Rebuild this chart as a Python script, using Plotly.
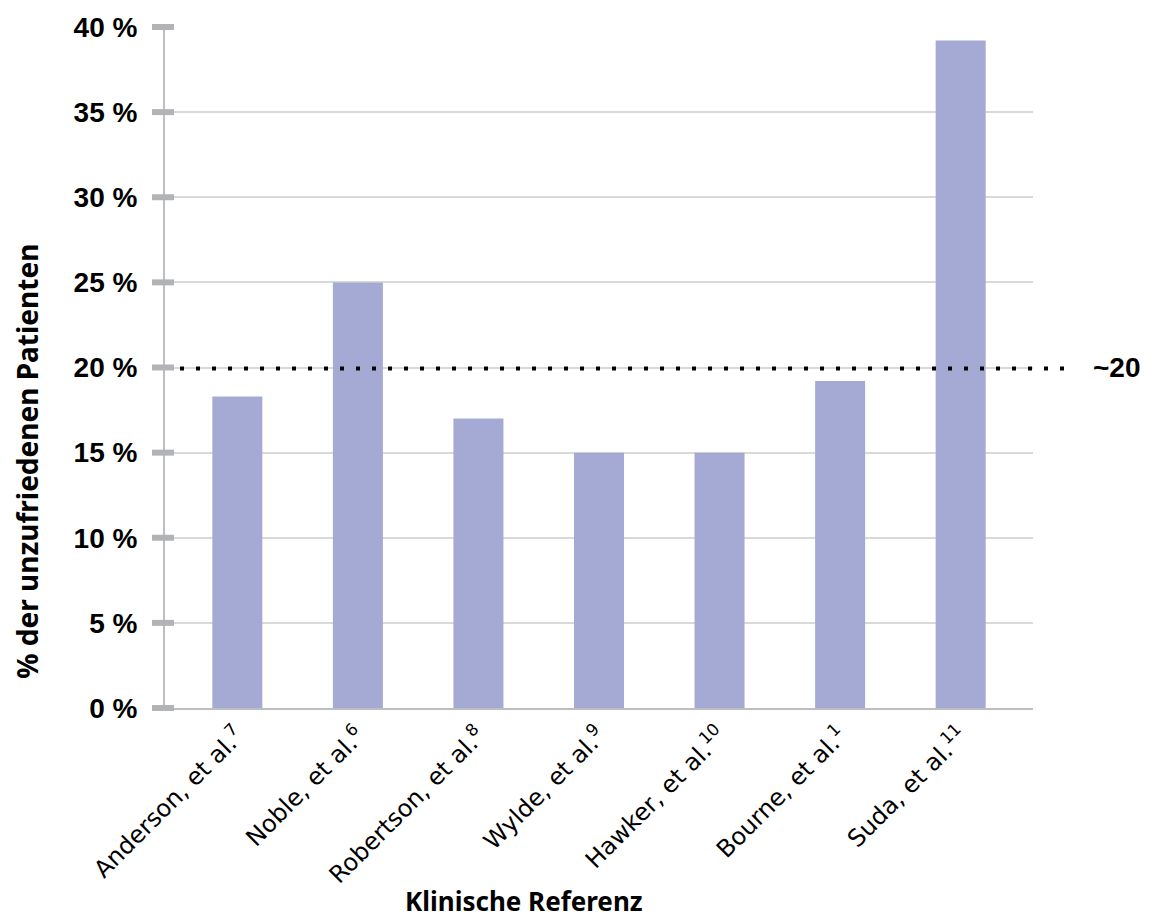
import plotly.graph_objects as go

# Studies and share of dissatisfied patients (%)
studies = ["Anderson, et al.<sup>7</sup>", "Noble, et al.<sup>6</sup>",
           "Robertson, et al.<sup>8</sup>", "Wylde, et al.<sup>9</sup>",
           "Hawker, et al.<sup>10</sup>", "Bourne, et al.<sup>1</sup>",
           "Suda, et al.<sup>11</sup>"]
dissatisfied = [18.3, 25.0, 17.0, 15.0, 15.0, 19.2, 39.2]

y_ticks = [0, 5, 10, 15, 20, 25, 30, 35, 40]
y_tick_labels = [f"{v} %" for v in y_ticks]
reference_level = 20
reference_label = "~20"

Y_MAX = 40
BAR_COLOR = "#a5aad5"
AXIS_GRAY = "#bcbec0"
GRID_GRAY = "#d9d9d9"
TICK_GRAY = "#b1b3b6"
SANS = "Noto Sans, DejaVu Sans, sans-serif"
WIDE = "DejaVu Sans, Noto Sans, sans-serif"
ARIAL = "Liberation Sans, Arial, sans-serif"

fig = go.Figure(go.Bar(
    x=list(range(len(studies))),
    y=dissatisfied,
    width=0.415,
    marker=dict(color=BAR_COLOR, line=dict(width=0)),
    hoverinfo="skip",
))

plot_w = 1151 - 165 - 118
plot_h = 922 - 25 - 214

shapes = []
# tick marks straddling the y axis
for v in y_ticks:
    shapes.append(dict(
        type="line", xref="paper", yref="paper",
        x0=-13 / plot_w, x1=9 / plot_w, y0=v / Y_MAX, y1=v / Y_MAX,
        line=dict(color=TICK_GRAY, width=6), layer="above",
    ))
# dotted reference line, extending past the plot area
ref_y = reference_level / Y_MAX - 1.0 / plot_h
shapes.append(dict(
    type="line", xref="paper", yref="paper",
    x0=15 / plot_w, x1=(1075 - 165) / plot_w, y0=ref_y, y1=ref_y,
    line=dict(color="black", width=4, dash="4px,12px"), layer="above",
))

fig.update_layout(
    width=1151, height=922,
    margin=dict(l=165, r=118, t=25, b=214),
    paper_bgcolor="white", plot_bgcolor="white",
    showlegend=False,
    shapes=shapes,
    xaxis=dict(
        range=[-0.6, 6.6],
        tickmode="array",
        tickvals=list(range(len(studies))),
        ticktext=studies,
        tickangle=-45,
        tickfont=dict(family=WIDE, size=24, color="black"),
        showgrid=False, zeroline=False,
        showline=True, linecolor=AXIS_GRAY, linewidth=2,
        ticks="outside", ticklen=2, tickcolor="white", tickwidth=0.01,
        fixedrange=True,
    ),
    yaxis=dict(
        range=[0, Y_MAX],
        tickmode="array",
        tickvals=y_ticks,
        ticktext=y_tick_labels,
        tickfont=dict(family=ARIAL, size=28, color="black", weight="bold"),
        showgrid=True, gridcolor=GRID_GRAY, gridwidth=2,
        zeroline=False,
        showline=True, linecolor=AXIS_GRAY, linewidth=2,
        ticks="outside", ticklen=13, tickwidth=0.01, tickcolor="white",
        ticklabelstandoff=7,
        fixedrange=True,
    ),
    annotations=[
        dict(text=reference_label, xref="paper", yref="paper",
             x=(1091 - 165) / plot_w, y=reference_level / Y_MAX,
             xanchor="left", yanchor="middle", showarrow=False,
             font=dict(family=ARIAL, size=28, color="black", weight="bold")),
        dict(text="% der unzufriedenen Patienten", xref="paper", yref="paper",
             x=(27 - 165) / plot_w, y=(708 - 461) / plot_h,
             xanchor="center", yanchor="middle", textangle=-90, showarrow=False,
             font=dict(family=SANS, size=28, color="black", weight="bold")),
        dict(text="Klinische Referenz", xref="paper", yref="paper",
             x=(524 - 165) / plot_w, y=-(902 - 708) / plot_h,
             xanchor="center", yanchor="middle", showarrow=False,
             font=dict(family=SANS, size=26, color="black", weight="bold")),
    ],
)

fig.write_html("out.html")
